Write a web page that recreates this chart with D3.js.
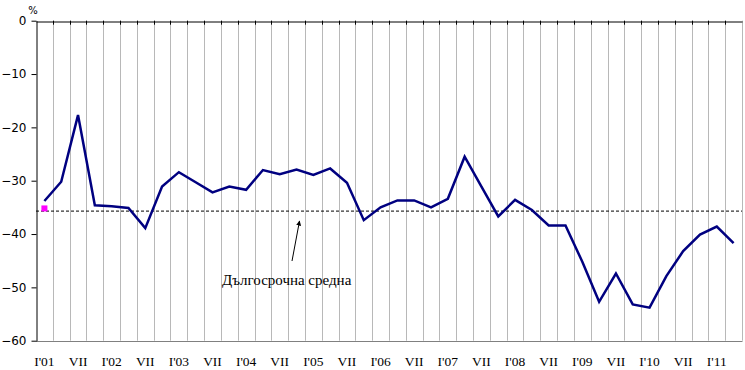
<!DOCTYPE html>
<html>
<head>
<meta charset="utf-8">
<script src="https://cdn.jsdelivr.net/npm/d3@7"></script>
<style>
    body { margin: 0; padding: 0; background: #ffffff; }
    svg { display: block; }
</style>
</head>
<body>
<script>

// quarterly, I'01 .. IV'11 (42 points)
var quarters = []
for (var q = 0; q < 42; q++) { quarters.push(q) }

var balance = [
    -33.8, -30.2, -17.7, -34.6, -34.8, -35.1, -38.9, -31.1,
    -28.4, -30.3, -32.2, -31.1, -31.7, -28.0, -28.8, -27.9,
    -28.9, -27.7, -30.4, -37.4, -35.0, -33.7, -33.7, -35.0,
    -33.4, -25.5, -31.1, -36.7, -33.6, -35.5, -38.4, -38.4,
    -45.2, -52.7, -47.4, -53.2, -53.8, -47.9, -43.2, -40.1,
    -38.6, -41.7
]

var longTermAverage = -35.7
var markerValue = -35.2

var xTickLabels = ["I'01", 'VII', "I'02", 'VII', "I'03", 'VII', "I'04", 'VII', "I'05", 'VII', "I'06",
                   'VII', "I'07", 'VII', "I'08", 'VII', "I'09", 'VII', "I'10", 'VII', "I'11"]

var yTicks = [0, -10, -20, -30, -40, -50, -60]

function drawChart(chartAreaWidth, chartAreaHeight) {

    var left = 36
    var right = 742
    var top = 20.7
    var bottom = 340.7

    var svg = d3.select('body')
                    .append('svg')
                        .attr('width', chartAreaWidth)
                        .attr('height', chartAreaHeight)

    var xscale = d3.scaleBand()
                    .domain(quarters)
                    .range([left, right])
                    .padding(0)

    var yscale = d3.scaleLinear()
                    .domain([-60, 0])
                    .range([bottom, top])

    var bw = xscale.bandwidth()

    // vertical grid lines on category boundaries
    svg.append('g')
            .selectAll('line')
            .data(quarters.slice(1).concat([quarters.length]))
            .enter()
                .append('line')
                    .attr('x1', function(d) { return Math.round(left + d * bw) + 0.5 })
                    .attr('x2', function(d) { return Math.round(left + d * bw) + 0.5 })
                    .attr('y1', top)
                    .attr('y2', bottom)
                    .attr('stroke', '#b8b8b8')
                    .attr('stroke-width', 1)

    // bottom border
    svg.append('line')
            .attr('x1', left).attr('x2', right + 0.5)
            .attr('y1', Math.round(bottom) + 0.5).attr('y2', Math.round(bottom) + 0.5)
            .attr('stroke', '#808080')

    // category axis crossing at zero (top), ticks pointing down
    var topAxis = d3.axisBottom(xscale)
                    .tickValues([])
                    .tickSizeOuter(0)
    svg.append('g')
            .attr('transform', 'translate(0,' + (Math.round(top) + 0.5) + ')')
            .call(topAxis)
    svg.append('g')
            .selectAll('line')
            .data(quarters.slice(1))
            .enter()
                .append('line')
                    .attr('x1', function(d) { return Math.round(left + d * bw) + 0.5 })
                    .attr('x2', function(d) { return Math.round(left + d * bw) + 0.5 })
                    .attr('y1', top)
                    .attr('y2', top + 4)
                    .attr('stroke', '#000')

    // y axis
    var y_axis = d3.axisLeft(yscale)
                    .tickValues(yTicks)
                    .tickSize(5)
                    .tickSizeOuter(0)
                    .tickPadding(5)
                    .tickFormat(d3.format('d'))
    var gy = svg.append('g')
            .attr('transform', 'translate(' + (left + 0.5) + ',0)')
            .call(y_axis)
    gy.selectAll('text')
            .style('font-family', 'DejaVu Sans, Verdana, sans-serif')
            .style('font-size', '12px')
            .attr('fill', '#000')
    gy.select('.domain').attr('stroke', '#000')

    svg.append('text')
            .text('%')
            .attr('x', 33)
            .attr('y', 14)
            .attr('text-anchor', 'middle')
            .style('font-family', 'DejaVu Sans, Verdana, sans-serif')
            .style('font-size', '10px')

    // x labels at bottom, every second quarter
    svg.append('g')
            .selectAll('text')
            .data(xTickLabels)
            .enter()
                .append('text')
                    .text(function(d) { return d })
                    .attr('x', function(d, i) { return xscale(i * 2) + bw / 2 })
                    .attr('y', 366)
                    .attr('text-anchor', 'middle')
                    .style('font-family', 'Liberation Serif, Times New Roman, serif')
                    .style('font-size', '13.5px')

    // long-term average
    svg.append('line')
            .attr('x1', left)
            .attr('x2', right)
            .attr('y1', yscale(longTermAverage))
            .attr('y2', yscale(longTermAverage))
            .attr('stroke', '#000')
            .attr('stroke-width', 1)
            .attr('stroke-dasharray', '3,2')

    // series
    var line = d3.line()
                    .x(function(d, i) { return xscale(i) + bw / 2 })
                    .y(function(d) { return yscale(d) })

    svg.append('path')
            .datum(balance)
            .attr('d', line)
            .attr('fill', 'none')
            .attr('stroke', '#000080')
            .attr('stroke-width', 2.5)
            .attr('stroke-linejoin', 'miter')

    svg.append('rect')
            .attr('x', xscale(0) + bw / 2 - 3)
            .attr('y', yscale(markerValue) - 3)
            .attr('width', 6)
            .attr('height', 6)
            .attr('fill', '#ff00ff')

    // annotation
    svg.append('defs')
            .append('marker')
                .attr('id', 'arrowhead')
                .attr('viewBox', '0 0 10 10')
                .attr('refX', 9)
                .attr('refY', 5)
                .attr('markerWidth', 5)
                .attr('markerHeight', 5)
                .attr('orient', 'auto')
                .append('path')
                    .attr('d', 'M0,0 L10,5 L0,10 z')
                    .attr('fill', '#000')

    svg.append('line')
            .attr('x1', 292)
            .attr('y1', 261)
            .attr('x2', 299.5)
            .attr('y2', 221)
            .attr('stroke', '#000')
            .attr('stroke-width', 1)
            .attr('marker-end', 'url(#arrowhead)')

    svg.append('text')
            .text('Дългосрочна средна')
            .attr('x', 222)
            .attr('y', 285)
            .style('font-family', 'Liberation Serif, Times New Roman, serif')
            .style('font-size', '15px')
}

drawChart(745, 370)

</script>
</body>
</html>
